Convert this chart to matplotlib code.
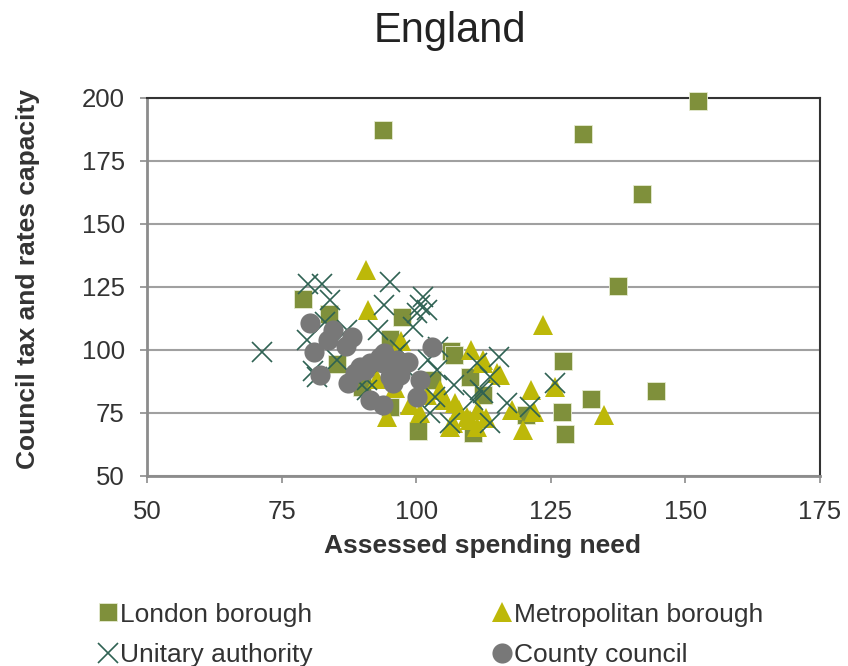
import matplotlib
matplotlib.use('Agg')
import matplotlib.pyplot as plt

plt.rcParams['font.family'] = ['Liberation Sans', 'DejaVu Sans']

# assessed spending need (x) vs council tax and rates capacity (y), England = 100
london_x = [93.8, 152.3, 131.0, 141.9, 137.5, 144.5, 127.3, 132.5, 127.1, 127.6,
            120.4, 106.5, 110.0, 110.6, 97.4, 95.1, 100.3, 79.0, 83.8, 85.3,
            89.9, 95.1, 112.5, 107.0, 103.0]
london_y = [187.3, 198.8, 185.7, 161.9, 125.4, 83.7, 95.6, 80.6, 75.4, 66.7,
            74.2, 99.6, 89.3, 67.1, 113.1, 104.4, 67.9, 120.2, 114.3, 94.4,
            85.3, 77.4, 82.0, 98.0, 88.0]

metro_x = [90.7, 123.6, 134.9, 91.0, 97.2, 110.2, 125.8, 121.3, 119.8, 121.9,
           117.8, 115.6, 112.4, 112.4, 115.0, 106.8, 111.3, 105.4, 106.3, 109.4,
           111.5, 104.4, 107.2, 100.7, 94.6, 110.0, 92.7, 98.8, 102.0, 108.0,
           96.0, 113.0]
metro_y = [131.7, 109.9, 74.2, 115.9, 103.6, 100.0, 85.3, 84.1, 68.3, 75.4,
           76.2, 90.1, 96.0, 94.8, 90.9, 71.0, 69.4, 80.2, 69.4, 73.4,
           76.2, 84.1, 79.0, 75.0, 73.4, 72.2, 88.5, 78.2, 82.0, 76.0,
           85.0, 73.0]

unitary_x = [71.4, 79.9, 82.5, 95.1, 84.0, 101.3, 100.7, 100.1, 102.0, 92.9,
             79.7, 87.1, 85.3, 81.6, 80.9, 99.4, 103.9, 102.2, 103.5, 106.3,
             111.3, 111.8, 102.6, 90.9, 90.9, 115.4, 113.7, 110.6, 116.9, 121.1,
             113.7, 125.8, 112.4, 83.0, 96.0, 98.0, 104.0, 107.0, 94.0, 97.0]
unitary_y = [99.2, 126.2, 126.2, 127.0, 119.8, 121.0, 117.9, 114.7, 115.9, 107.9,
             104.0, 107.9, 96.0, 89.3, 91.5, 109.1, 92.1, 96.0, 81.3, 71.0,
             94.8, 84.1, 75.0, 84.1, 88.1, 97.2, 89.3, 80.2, 79.0, 77.4,
             71.0, 86.9, 82.9, 111.0, 98.0, 93.0, 101.0, 86.0, 118.0, 100.0]

county_x = [80.3, 81.1, 82.1, 83.6, 84.5, 88.1, 87.0, 87.3, 102.9, 91.4,
            93.8, 93.3, 89.6, 95.7, 98.5, 100.7, 100.1, 88.6, 95.1, 91.4,
            93.8, 96.4, 90.5, 97.0, 94.0]
county_y = [110.7, 99.2, 90.1, 104.0, 107.9, 105.2, 101.6, 86.9, 101.2, 80.2,
            78.2, 97.2, 93.3, 86.9, 95.2, 88.1, 81.3, 90.9, 89.3, 94.8,
            94.8, 96.0, 92.0, 90.0, 99.0]

x_ticks = [50, 75, 100, 125, 150, 175]
y_ticks = [50, 75, 100, 125, 150, 175, 200]

fig = plt.figure(figsize=(8.48, 6.66), dpi=100)
ax = fig.add_axes([0.1733, 0.2853, 0.7937, 0.5676])

ax.plot(london_x, london_y, 's', ms=13.5, color='#7F903B', mec='#E6EBD2', mew=0.6,
        label='London borough', zorder=3, clip_on=False)
ax.plot(metro_x, metro_y, '^', ms=14.5, color='#BDB809', mec='#BDB809', mew=0,
        label='Metropolitan borough', zorder=4, clip_on=False)
ax.plot(unitary_x, unitary_y, 'x', ms=14, color='#2F6253', mew=1.2,
        label='Unitary authority', zorder=5, clip_on=False)
ax.plot(county_x, county_y, 'o', ms=14.5, color='#787878', mec='#787878', mew=0,
        label='County council', zorder=6, clip_on=False)

ax.set_xlim(50, 175)
ax.set_ylim(50, 200)
ax.set_xticks(x_ticks)
ax.set_yticks(y_ticks)
ax.tick_params(labelsize=18.5, labelcolor='#333333', length=5, width=1.2, color='#8C8C8C')
ax.tick_params(axis='y', pad=11)
ax.tick_params(axis='x', pad=12)
ax.grid(axis='y', color='#A0A0A0', lw=1.5, zorder=0)
ax.set_axisbelow(True)
for s in ['top', 'right']:
    ax.spines[s].set_color('#333333')
    ax.spines[s].set_linewidth(1.5)
for s in ['left', 'bottom']:
    ax.spines[s].set_color('#8C8C8C')
    ax.spines[s].set_linewidth(2)

fig.text(0.531, 0.953, 'England', ha='center', va='center', fontsize=30, color='#222222')
fig.text(0.5685, 0.180, 'Assessed spending need', ha='center', va='center',
         fontsize=19, fontweight='bold', color='#333333')
fig.text(0.033, 0.581, 'Council tax and rates capacity', ha='center', va='center',
         rotation=90, fontsize=19, fontweight='bold', color='#333333')

handles, labels = ax.get_legend_handles_labels()
order = [0, 2, 1, 3]
leg = fig.legend([handles[i] for i in order], [labels[i] for i in order],
                 ncol=2, loc='upper left', bbox_to_anchor=(0.117, 0.095),
                 frameon=False, fontsize=19, handlelength=0.7, handletextpad=0.1,
                 columnspacing=6.8, labelspacing=0.62, borderaxespad=0,
                 borderpad=0, markerscale=1.0)
for t in leg.get_texts():
    t.set_color('#333333')

fig.savefig('out.png', dpi=100)
